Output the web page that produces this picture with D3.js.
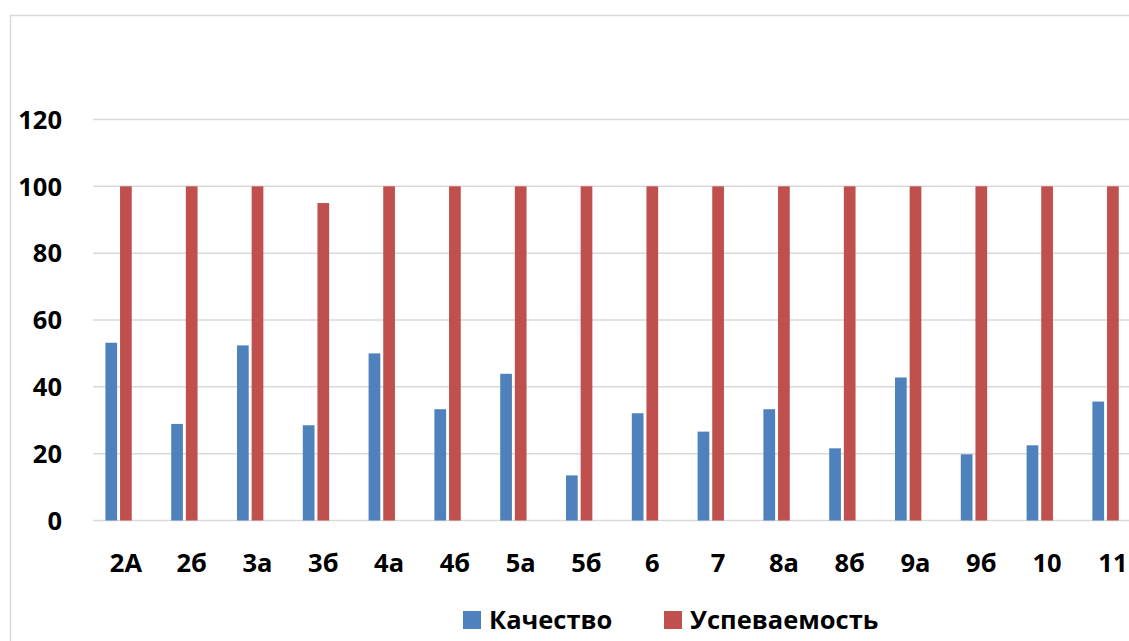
<!doctype html>
<html>
<head>
<meta charset="utf-8">
<title>Качество и успеваемость</title>
<script src="https://cdn.jsdelivr.net/npm/d3@7"></script>
<style>
  body { margin: 0; background: #fff; }
  svg { display: block; font-family: "Open Sans", "Noto Sans", sans-serif; font-weight: bold; }
</style>
</head>
<body>
<script>
const classes = ["2А", "2б", "3а", "3б", "4а", "4б", "5а", "5б", "6", "7", "8а", "8б", "9а", "9б", "10", "11"];
const quality = [53.2, 28.9, 52.4, 28.5, 50, 33.3, 43.9, 13.5, 32.1, 26.6, 33.3, 21.6, 42.8, 19.8, 22.5, 35.6];
const progress = [100, 100, 100, 95, 100, 100, 100, 100, 100, 100, 100, 100, 100, 100, 100, 100];
const seriesNames = ["Качество", "Успеваемость"];
const seriesColors = ["#4f81bd", "#c0504d"];
const yTicks = [0, 20, 40, 60, 80, 100, 120];

// Specify the chart’s dimensions.
const width = 1129;
const height = 641;
const marginLeft = 93;
const step = 65.8;
const fontSize = 25.5;

const series = [quality, progress];

// Category scale; the original chart keeps a third, empty series slot in each group.
const x = d3.scaleBand(classes, [marginLeft, marginLeft + step * classes.length])
    .paddingInner(0.377)
    .paddingOuter(0.1885);
const x1 = d3.scaleBand([...seriesNames, "—"], [0, x.bandwidth()])
    .paddingInner(0.2);

const y = d3.scaleLinear([0, 120], [520.5, 119.5]);
const color = d3.scaleOrdinal(seriesNames, seriesColors);

const svg = d3.create("svg")
    .attr("viewBox", [0, 0, width, height])
    .attr("width", width)
    .attr("height", height);

// Chart frame (runs off the right and bottom of the picture).
svg.append("rect")
    .attr("x", 10.5)
    .attr("y", 15.5)
    .attr("width", 1300)
    .attr("height", 700)
    .attr("fill", "none")
    .attr("stroke", "#d9d9d9")
    .attr("stroke-width", 1.5);

// Horizontal gridlines and y labels.
svg.append("g")
    .attr("stroke", "#d9d9d9")
    .attr("stroke-width", 1.5)
  .selectAll("line")
  .data(yTicks)
  .join("line")
    .attr("x1", marginLeft)
    .attr("x2", width + 10)
    .attr("y1", (d) => y(d))
    .attr("y2", (d) => y(d));

svg.append("g")
    .attr("font-size", fontSize)
    .attr("text-anchor", "end")
  .selectAll("text")
  .data(yTicks)
  .join("text")
    .attr("x", 62)
    .attr("y", (d) => y(d))
    .attr("dy", "0.36em")
    .text((d) => d);

// Append the bars.
svg.append("g")
  .selectAll("g")
  .data(seriesNames)
  .join("g")
    .attr("fill", (name) => color(name))
  .selectAll("rect")
  .data((name, i) => series[i].map((v, j) => ({name, key: classes[j], value: v})))
  .join("rect")
    .attr("x", (d) => x(d.key) + x1(d.name))
    .attr("width", x1.bandwidth())
    .attr("y", (d) => y(d.value))
    .attr("height", (d) => y(0) - y(d.value));

// Category labels.
svg.append("g")
    .attr("font-size", fontSize)
    .attr("text-anchor", "middle")
  .selectAll("text")
  .data(classes)
  .join("text")
    .attr("x", (d) => x(d) + x.bandwidth() / 2)
    .attr("y", 571.5)
    .text((d) => d);

// Legend.
const legendX = [463, 664];
const legend = svg.append("g")
  .selectAll("g")
  .data(seriesNames)
  .join("g")
    .attr("transform", (d, i) => `translate(${legendX[i]},611)`);

legend.append("rect")
    .attr("width", 18)
    .attr("height", 18)
    .attr("fill", (d) => color(d));

legend.append("text")
    .attr("x", 26)
    .attr("y", 18)
    .attr("font-size", fontSize)
    .text((d) => d);

document.body.append(svg.node());
</script>
</body>
</html>
